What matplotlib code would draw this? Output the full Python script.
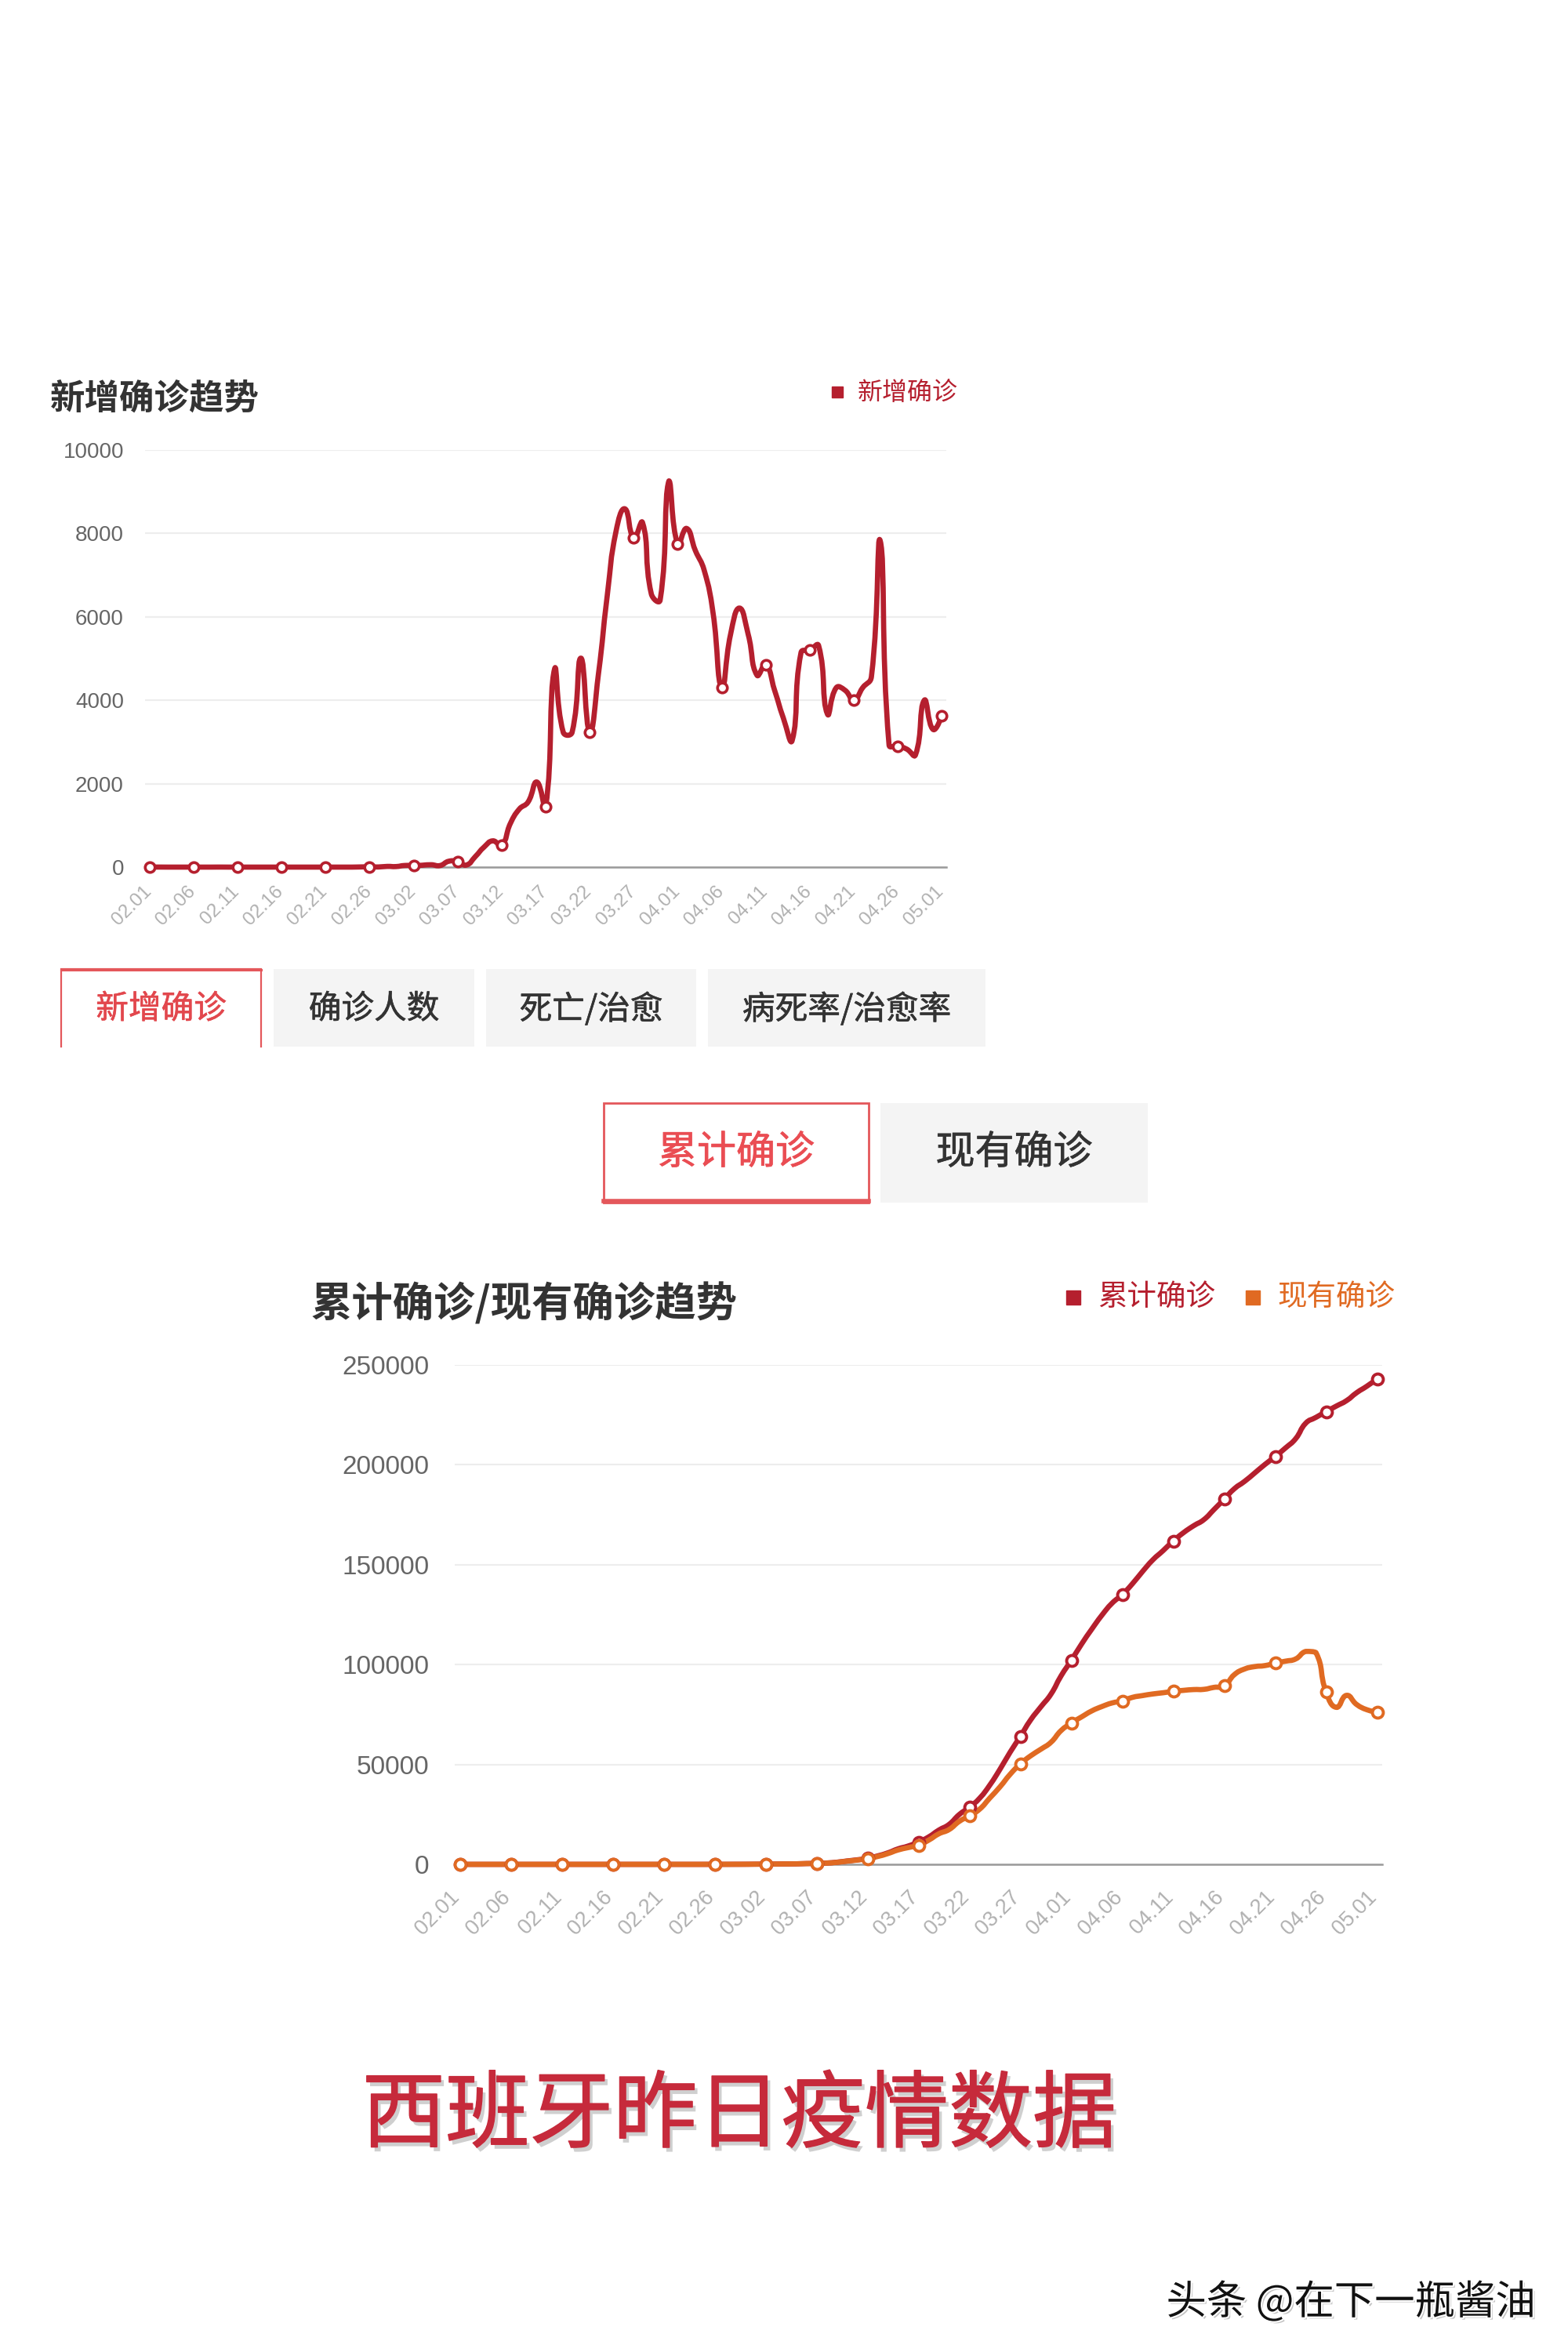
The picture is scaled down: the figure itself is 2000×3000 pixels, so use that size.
import numpy as np
import pandas as pd
import matplotlib
matplotlib.use('Agg')
import matplotlib.pyplot as plt
from matplotlib.path import Path
from matplotlib.patches import PathPatch, Rectangle
import matplotlib.transforms as mtransforms
import matplotlib.patheffects as pe

CJK = ['Noto Sans CJK SC', 'DejaVu Sans']
LAT = ['Liberation Sans', 'DejaVu Sans']
plt.rcParams['font.family'] = LAT

# ---------------- data ----------------
dates = pd.date_range('2020-02-01', '2020-05-01').strftime('%m.%d').tolist()
tick_labels = ['02.01', '02.06', '02.11', '02.16', '02.21', '02.26', '03.02', '03.07',
               '03.12', '03.17', '03.22', '03.27', '04.01', '04.06', '04.11', '04.16',
               '04.21', '04.26', '05.01']

new_confirmed = [0, 1, 0, 0, 0, 0, 0, 0, 1, 0, 0, 0, 0, 0, 0, 0, 0, 0, 0, 0, 0, 0, 0, 0,
                 4, 6, 3, 17, 13, 39, 36, 45, 57, 37, 141,
                 130, 50, 250, 480, 630, 520, 1050, 1390, 1560, 2040, 1450,
                 4740, 3230, 3230, 5010, 3240, 4640, 6520, 8060, 8590, 7890,
                 8260, 6550, 6400, 9260, 7740, 8120, 7590, 7120, 6110, 4300,
                 5580, 6210, 5580, 4600, 4850, 4240, 3570, 3040, 5140, 5210,
                 5310, 3670, 4300, 4240, 4000, 4300, 4570, 7820, 2930, 2900,
                 2830, 2690, 4000, 3300, 3630]

total_confirmed = [1, 1, 1, 1, 1, 1, 1, 1, 2, 2, 2, 2, 2, 2, 2, 2, 2, 2, 2, 2, 2, 2, 2, 2,
                   6, 12, 15, 32, 45, 84, 120, 165, 222, 259, 400,
                   500, 673, 1073, 1695, 2277, 3004, 4231, 5753, 7753, 9191, 11178,
                   13716, 17147, 19980, 24926, 28572, 33089, 39673, 47610, 56188, 64059,
                   72248, 78797, 85195, 94417, 102136, 110238, 117710, 124736, 130759, 135032,
                   140510, 146690, 152446, 157022, 161852, 166019, 169496, 172541, 177633, 182816,
                   188068, 191726, 195944, 200210, 204178, 208389, 213024, 220846, 223759, 226629,
                   229422, 232128, 236128, 239369, 242988]

current_confirmed = [1, 1, 1, 1, 1, 1, 1, 1, 2, 2, 2, 2, 2, 2, 2, 2, 1, 1, 1, 1, 1, 0, 0, 0,
                     4, 10, 13, 30, 43, 82, 118, 163, 220, 256, 395,
                     470, 630, 1010, 1600, 2150, 2900, 3950, 5400, 7200, 8400, 9600,
                     12100, 15300, 17400, 21500, 24300, 27600, 33200, 38800, 45100, 50300,
                     54300, 57600, 61100, 67000, 70700, 73800, 76800, 79000, 80800, 81800,
                     83600, 84500, 85300, 85900, 86600, 87100, 87500, 87600, 88600, 89300,
                     95000, 97800, 99000, 99500, 100700, 101700, 102800, 106600, 106000, 86200,
                     78600, 84600, 80000, 77400, 76200]

top_yticks = [0, 2000, 4000, 6000, 8000, 10000]
bottom_yticks = [0, 50000, 100000, 150000, 200000, 250000]

top_title = '新增确诊趋势'
bottom_title = '累计确诊/现有确诊趋势'
series_names = ['新增确诊', '累计确诊', '现有确诊']
tab_labels = ['新增确诊', '确诊人数', '死亡/治愈', '病死率/治愈率']
toggle_labels = ['累计确诊', '现有确诊']
headline = '西班牙昨日疫情数据'
watermark = '头条 @在下一瓶酱油'

RED = '#b51f2e'
ORANGE = '#e06a22'
GRID = '#ededed'
AXIS = '#9a9a9a'
TAB_RED = '#e4575b'

W, H = 2000, 3000
fig = plt.figure(figsize=(W / 100, H / 100), dpi=100)
fig.patch.set_facecolor('white')

# background overlay in pixel coordinates for decorations
bg = fig.add_axes([0, 0, 1, 1])
bg.set_xlim(0, W)
bg.set_ylim(H, 0)
bg.axis('off')


def px_axes(l, t, r, b):
    return fig.add_axes([l / W, 1 - b / H, (r - l) / W, (b - t) / H])


def smooth_line(ax, x, y, color, lw, smooth=0.5, zorder=3):
    pts = ax.transData.transform(np.column_stack([x, y]).astype(float))
    n = len(pts)
    lo = pts.min(axis=0)
    hi = pts.max(axis=0)
    cin = pts.copy()
    cout = pts.copy()
    for i in range(1, n - 1):
        v = pts[i + 1] - pts[i - 1]
        d0 = np.hypot(*(pts[i] - pts[i - 1]))
        d1 = np.hypot(*(pts[i + 1] - pts[i]))
        s = d0 + d1
        if s > 0:
            cin[i] = pts[i] - v * smooth * d0 / s
            cout[i] = pts[i] + v * smooth * d1 / s
    cin = np.clip(cin, lo, hi)
    cout = np.clip(cout, lo, hi)
    verts = [pts[0]]
    codes = [Path.MOVETO]
    for i in range(n - 1):
        verts += [cout[i], cin[i + 1], pts[i + 1]]
        codes += [Path.CURVE4] * 3
    verts = ax.transData.inverted().transform(np.array(verts))
    patch = PathPatch(Path(verts, codes), fill=False, edgecolor=color, lw=lw,
                      zorder=zorder, capstyle='round', joinstyle='round', clip_on=False)
    ax.add_patch(patch)


def style_axes(ax, yticks, ysize, ypad, xsize, xdx, xdy):
    ax.set_xlim(-0.5, len(dates) - 0.5)
    ax.set_ylim(yticks[0], yticks[-1])
    ax.set_yticks(yticks)
    ax.set_yticklabels([str(t) for t in yticks])
    ax.grid(axis='y', color=GRID, lw=1.6)
    ax.set_axisbelow(True)
    for s in ['top', 'right', 'left']:
        ax.spines[s].set_visible(False)
    ax.spines['bottom'].set_color(AXIS)
    ax.spines['bottom'].set_linewidth(1.8)
    ax.tick_params(axis='y', length=0, pad=ypad, labelsize=ysize, labelcolor='#666666')
    ax.tick_params(axis='x', length=0, labelbottom=False)
    ax.set_xticks([dates.index(t) for t in tick_labels])
    off = mtransforms.ScaledTranslation(xdx / 100, -xdy / 100, fig.dpi_scale_trans)
    for t in tick_labels:
        ax.text(dates.index(t), 0, t, transform=ax.get_xaxis_transform() + off,
                rotation=45, rotation_mode='anchor', ha='right', va='center',
                fontsize=xsize, color='#b0b0b0', family=LAT)
    ax.patch.set_alpha(0)


x = np.arange(len(dates))

# ---------------- top chart ----------------
ax1 = px_axes(185, 574, 1207, 1106)
style_axes(ax1, top_yticks, 20, 19.5, 17.5, -1, 28)
smooth_line(ax1, x, new_confirmed, RED, 4.8)
ax1.plot(x[::5], np.array(new_confirmed)[::5], ls='none', marker='o', ms=9,
         mfc='white', mec=RED, mew=2.6, zorder=4, clip_on=False)

bg.text(64, 509, top_title, fontsize=32, fontweight='bold', color='#333333',
        ha='left', va='center', family=CJK)
bg.add_patch(Rectangle((1061, 493), 14, 14, color=RED))
bg.text(1094, 501, series_names[0], fontsize=23, color=RED, ha='left', va='center',
        family=CJK)

# ---------------- tabs ----------------
tab_boxes = [(78, 333), (349, 605), (620, 888), (903, 1257)]
ty0, ty1 = 1236, 1335
for i, (lab, (l, r)) in enumerate(zip(tab_labels, tab_boxes)):
    if i == 0:
        bg.add_patch(Rectangle((l, ty0), r - l, ty1 - ty0, facecolor='white', lw=0))
        bg.plot([l, l, r, r], [ty1, ty0, ty0, ty1], color=TAB_RED, lw=1.6,
                solid_joinstyle='miter')
        bg.plot([l, r], [ty0 + 1, ty0 + 1], color=TAB_RED, lw=2.2)
        col = '#e2474d'
    else:
        bg.add_patch(Rectangle((l, ty0), r - l, ty1 - ty0, facecolor='#f4f4f4', lw=0))
        col = '#333333'
    bg.text((l + r) / 2, (ty0 + ty1) / 2 + 2, lab, fontsize=30, color=col,
            ha='center', va='center', family=CJK,
            path_effects=[pe.Stroke(linewidth=0.4, foreground=col), pe.Normal()])

# toggle
tog_boxes = [(770, 1108), (1123, 1464)]
gy0, gy1 = 1407, 1534
for i, (lab, (l, r)) in enumerate(zip(toggle_labels, tog_boxes)):
    if i == 0:
        bg.add_patch(Rectangle((l, gy0), r - l, gy1 - gy0, facecolor='white',
                               edgecolor=TAB_RED, lw=2.0))
        bg.plot([l, r], [gy1 - 2, gy1 - 2], color=TAB_RED, lw=4)
        col = '#ea4d53'
    else:
        bg.add_patch(Rectangle((l, gy0), r - l, gy1 - gy0, facecolor='#f4f4f4', lw=0))
        col = '#333333'
    bg.text((l + r) / 2, (gy0 + gy1) / 2, lab, fontsize=36, color=col,
            ha='center', va='center', family=CJK,
            path_effects=[pe.Stroke(linewidth=0.5, foreground=col), pe.Normal()])

# ---------------- bottom chart ----------------
ax2 = px_axes(580, 1741, 1763, 2378)
style_axes(ax2, bottom_yticks, 24, 23.5, 19.5, -4, 38)
smooth_line(ax2, x, total_confirmed, RED, 4.8, zorder=3)
smooth_line(ax2, x, current_confirmed, ORANGE, 4.8, zorder=3.5)
ax2.plot(x[::5], np.array(total_confirmed)[::5], ls='none', marker='o', ms=10,
         mfc='white', mec=RED, mew=2.8, zorder=4, clip_on=False)
ax2.plot(x[::5], np.array(current_confirmed)[::5], ls='none', marker='o', ms=10,
         mfc='white', mec=ORANGE, mew=2.8, zorder=4.5, clip_on=False)

bg.text(397, 1663, bottom_title, fontsize=37.7, fontweight='bold', color='#333333',
        ha='left', va='center', family=CJK)
bg.add_patch(Rectangle((1360, 1646), 18, 18, color=RED))
bg.text(1400, 1655, series_names[1], fontsize=27, color=RED, ha='left', va='center',
        family=CJK)
bg.add_patch(Rectangle((1589, 1646), 18, 18, color=ORANGE))
bg.text(1629, 1655, series_names[2], fontsize=27, color=ORANGE, ha='left', va='center',
        family=CJK)

# ---------------- headline & watermark ----------------
hl_col = '#c62a3b'
bg.text(943, 2700, headline, fontsize=77, color=hl_col, ha='center', va='center',
        family=CJK,
        path_effects=[pe.SimplePatchShadow(offset=(3, -4), shadow_rgbFace='#777777',
                                           alpha=0.35),
                      pe.Stroke(linewidth=1.0, foreground=hl_col), pe.Normal()])
bg.text(1723, 2937, watermark, fontsize=37, color='#111111', ha='center', va='center',
        family=CJK,
        path_effects=[pe.SimplePatchShadow(offset=(2, -2), shadow_rgbFace='#888888',
                                           alpha=0.5),
                      pe.Stroke(linewidth=3, foreground='white'), pe.Normal()])

fig.savefig('out.png', dpi=100, facecolor='white')
